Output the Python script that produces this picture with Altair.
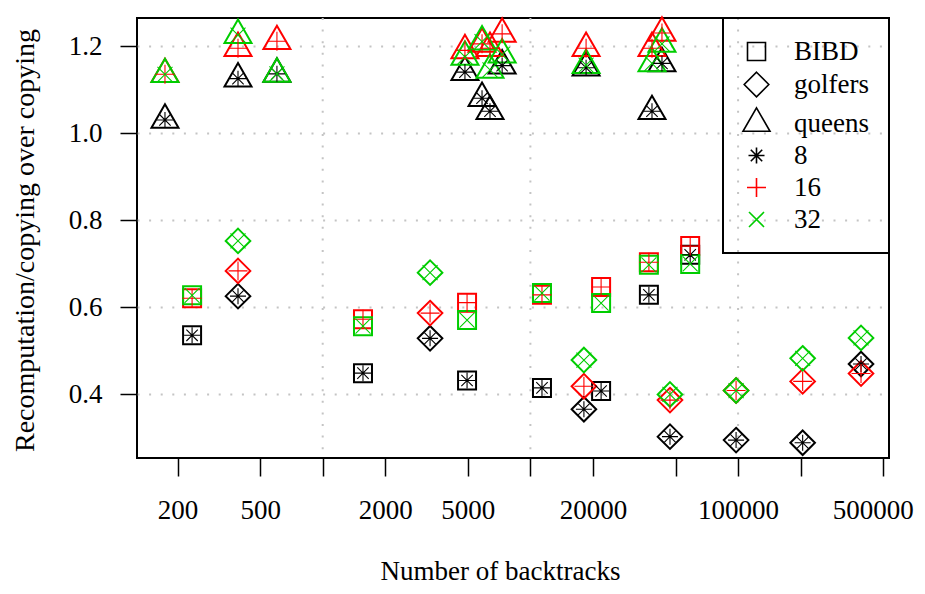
import altair as alt
import pandas as pd

# ---- data ----
problems = ["queens", "BIBD", "golfers", "queens", "queens", "BIBD", "golfers", "BIBD",
            "queens", "queens", "queens", "queens", "BIBD", "golfers", "queens", "BIBD",
            "BIBD", "queens", "queens", "golfers", "BIBD", "golfers", "golfers", "golfers"]
backtracks = [174, 235, 391, 391, 602, 1563, 3288, 4955,
              4840, 5850, 6390, 7310, 11370, 18100, 18540, 21900,
              37200, 38500, 43000, 47000, 58800, 97800, 204600, 390800]
t8 = [1.030, 0.535, 0.625, 1.125, 1.136, 0.448, 0.528, 0.431,
      1.140, 1.080, 1.050, 1.155, 0.414, 0.365, 1.150, 0.407,
      0.628, 1.050, 1.160, 0.302, 0.720, 0.294, 0.288, 0.469]
t16 = [1.135, 0.620, 0.683, 1.195, 1.211, 0.572, 0.586, 0.610,
       1.190, 1.205, 1.195, 1.228, 0.628, 0.418, 1.195, 0.646,
       0.703, 1.195, 1.230, 0.386, 0.740, 0.408, 0.429, 0.447]
t32 = [1.135, 0.627, 0.752, 1.225, 1.136, 0.556, 0.679, 0.570,
       1.175, 1.210, 1.145, 1.180, 0.632, 0.478, 1.156, 0.609,
       0.697, 1.160, 1.205, 0.399, 0.699, 0.408, 0.482, 0.529]
thread_labels = ["8", "16", "32"]

legend_keys = ["BIBD", "golfers", "queens", "8", "16", "32"]
key_colors = ["black", "black", "black", "black", "#FF0000", "#00CD00"]
key_paths = [
    "M-0.9,-0.9L0.9,-0.9L0.9,0.9L-0.9,0.9Z",
    "M0,-1.23L1.23,0L0,1.23L-1.23,0Z",
    "M0,-1.56L1.35,0.78L-1.35,0.78Z",
    "M-0.8,0L0.8,0M0,-0.8L0,0.8M-0.57,-0.57L0.57,0.57M-0.57,0.57L0.57,-0.57",
    "M-0.95,0L0.95,0M0,-0.95L0,0.95",
    "M-0.75,-0.75L0.75,0.75M-0.75,0.75L0.75,-0.75",
]

x_ticks = [200, 500, 1000, 2000, 5000, 10000, 20000, 50000, 100000, 200000, 500000]
x_grid = [1000, 10000, 100000]
y_ticks = [0.4, 0.6, 0.8, 1.0, 1.2]

rows = []
for th, vals in zip(thread_labels, [t8, t16, t32]):
    for p, b, v in zip(problems, backtracks, vals):
        rows.append({"problem": p, "backtracks": b, "threads": th, "ratio": v})
df = pd.DataFrame(rows)
grid_df = pd.DataFrame({"backtracks": x_grid})

FONT = "Liberation Serif"
GRID = "#c4c4c4"

xscale = alt.Scale(type="log", domain=[127.6, 532900], nice=False)
yscale = alt.Scale(domain=[0.2529, 1.2644], nice=False, zero=False)

xenc = alt.X(
    "backtracks:Q", scale=xscale,
    axis=alt.Axis(
        values=x_ticks,
        labelExpr="indexof([1000,10000,50000,200000], datum.value) >= 0 ? '' : format(datum.value, 'd')",
        title="Number of backtracks", grid=False, domain=False,
        tickSize=18, tickWidth=1.5, tickColor="black",
        labelPadding=21, labelFontSize=27, labelFont=FONT, labelColor="black",
        labelOverlap=False, labelFlush=10, labelFlushOffset=30,
        titleFont=FONT, titleFontSize=27, titleFontWeight="normal", titleColor="black",
        titleX=363, titleY=121, titleBaseline="alphabetic", titleAlign="center",
    ),
)
yenc = alt.Y(
    "ratio:Q", scale=yscale,
    axis=alt.Axis(
        values=y_ticks, format=".1f",
        title="Recomputation/copying over copying",
        grid=True, gridColor=GRID, gridDash=[2, 9.6], gridWidth=2,
        domain=False, tickSize=17, tickWidth=1.5, tickColor="black",
        labelPadding=18, labelFontSize=27, labelFont=FONT, labelColor="black",
        titleFont=FONT, titleFontSize=28, titleFontWeight="normal", titleColor="black",
        titleAngle=270, titleX=-104, titleY=222, titleBaseline="alphabetic", titleAlign="center",
    ),
)

leg = alt.Legend(
    title=None, orient="top-right", offset=0, padding=20,
    strokeColor="black", symbolSize=400, symbolStrokeWidth=1.6,
    labelFont=FONT, labelFontSize=27, labelColor="black", labelOffset=24,
    rowPadding=4,
)
shape_scale = alt.Scale(domain=legend_keys, range=key_paths)
color_scale = alt.Scale(domain=legend_keys, range=key_colors)

grid_layer = alt.Chart(grid_df).mark_rule(
    color=GRID, strokeWidth=2, strokeDash=[2, 9.6]
).encode(x=xenc)

outer = alt.Chart(df).mark_point(filled=False, strokeWidth=2, size=400, opacity=1).encode(
    x=xenc, y=yenc,
    shape=alt.Shape("problem:N", scale=shape_scale, legend=leg),
    color=alt.Color("threads:N", scale=color_scale, legend=leg),
)
inner = alt.Chart(df).mark_point(filled=False, strokeWidth=1.1, size=400, opacity=1).encode(
    x=xenc, y=yenc,
    shape=alt.Shape("threads:N", scale=shape_scale, legend=leg),
    color=alt.Color("threads:N", scale=color_scale, legend=leg),
)

chart = alt.layer(grid_layer, outer, inner).properties(
    width=752, height=440,
    autosize=alt.AutoSizeParams(type="none"),
    padding={"left": 129, "top": 10, "right": 28, "bottom": 128},
).configure_view(
    stroke="black", strokeWidth=2
).configure_legend(
    strokeWidth=2
)

chart.save("out.html", embed_options={"renderer": "svg", "actions": False})
